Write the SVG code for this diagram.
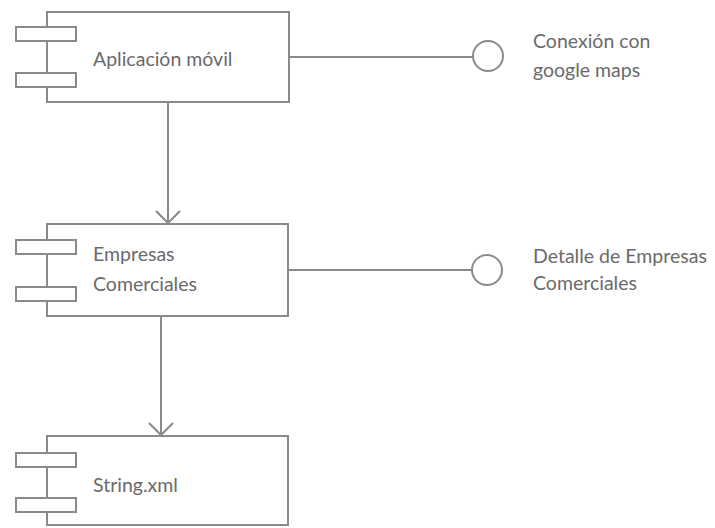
<svg xmlns="http://www.w3.org/2000/svg" width="715" height="528" viewBox="0 0 715 528">
<defs>
<style>
.box{fill:#fff;stroke:#8a8a8a;stroke-width:2}
.port{fill:#fff;stroke:#8a8a8a;stroke-width:2}
.line{fill:none;stroke:#8a8a8a;stroke-width:2}
.lbl{font-family:Lato,"Liberation Sans",sans-serif;font-size:19.5px;fill:#6a6a6a}
</style>
</defs>
<rect width="715" height="528" fill="#fff"/>
<g id="connectors">
<line class="line" x1="289" y1="57" x2="473" y2="57"/>
<line class="line" x1="288" y1="270" x2="472" y2="270"/>
<line class="line" x1="168" y1="102" x2="168" y2="223"/>
<polyline class="line" points="156,211 168,223 180,211"/>
<line class="line" x1="161" y1="316" x2="161" y2="435"/>
<polyline class="line" points="149,423 161,435 173,423"/>
</g>
<g id="app">
<rect class="box" x="47" y="12" width="242" height="90"/>
<rect class="port" x="16" y="27" width="60" height="14"/>
<rect class="port" x="16" y="73" width="60" height="14"/>
<text class="lbl" x="93" y="66">Aplicación móvil</text>
</g>
<g id="empresas">
<rect class="box" x="47" y="224" width="241" height="92"/>
<rect class="port" x="16" y="240" width="60" height="14"/>
<rect class="port" x="16" y="287" width="60" height="14"/>
<text class="lbl" x="93" y="261">Empresas</text>
<text class="lbl" x="93" y="291">Comerciales</text>
</g>
<g id="string">
<rect class="box" x="47" y="436" width="241" height="89"/>
<rect class="port" x="16" y="453" width="60" height="14"/>
<rect class="port" x="16" y="498" width="60" height="14"/>
<text class="lbl" x="93" y="492">String.xml</text>
</g>
<g id="iface1">
<circle class="port" cx="488" cy="56" r="15"/>
<text class="lbl" x="533" y="48">Conexión con</text>
<text class="lbl" x="533" y="77">google maps</text>
</g>
<g id="iface2">
<circle class="port" cx="487" cy="270" r="15"/>
<text class="lbl" x="533" y="263">Detalle de Empresas</text>
<text class="lbl" x="533" y="290">Comerciales</text>
</g>
</svg>
